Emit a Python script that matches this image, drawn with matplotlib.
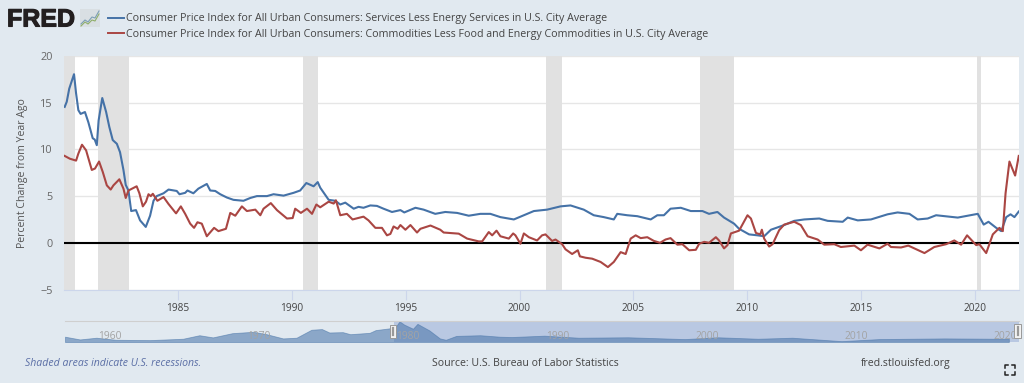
import matplotlib
matplotlib.use("Agg")
import matplotlib.pyplot as plt
import matplotlib.patheffects as pe

# --- data ---
services_years = [1980.03, 1980.12, 1980.23, 1980.44, 1980.53, 1980.63, 1980.73, 1980.92, 1981.07, 1981.26, 1981.35, 1981.44, 1981.52, 1981.68, 1981.85, 1981.99, 1982.14, 1982.32, 1982.46, 1982.61, 1982.71, 1982.83, 1982.95, 1983.16, 1983.34, 1983.59, 1983.78, 1983.93, 1984.07, 1984.37, 1984.59, 1984.95, 1985.07, 1985.32, 1985.42, 1985.68, 1985.90, 1986.27, 1986.42, 1986.64, 1986.86, 1987.15, 1987.44, 1987.88, 1988.18, 1988.47, 1988.91, 1989.20, 1989.64, 1990.08, 1990.37, 1990.64, 1990.96, 1991.14, 1991.25,
                  1991.62, 1991.91, 1992.13, 1992.35, 1992.72, 1992.93, 1993.15, 1993.45, 1993.74, 1994.03, 1994.40, 1994.77, 1994.94, 1995.43, 1995.79, 1996.30, 1996.74, 1997.26, 1997.77, 1998.28, 1998.72, 1999.16, 1999.75, 2000.19, 2000.63, 2001.21, 2001.80, 2002.24, 2002.82, 2003.26, 2003.70, 2004.14, 2004.29, 2004.73, 2005.17, 2005.76, 2006.05, 2006.34, 2006.63,
                  2007.08, 2007.52, 2008.03, 2008.32, 2008.69, 2008.98, 2009.42, 2009.64, 2010.08, 2010.45, 2010.74, 2011.04, 2011.62, 2012.06, 2012.50, 2013.16, 2013.53, 2014.19, 2014.41, 2014.85, 2015.43, 2016.16, 2016.60, 2017.12, 2017.48, 2017.92, 2018.29, 2019.24, 2020.12, 2020.38, 2020.59, 2020.93, 2021.15, 2021.37, 2021.56, 2021.73, 2021.92]
services_vals = [14.55, 15.1, 16.5, 18.05, 16.0, 14.2, 13.8, 14.0, 12.9, 11.2, 11.05, 10.45, 13.1, 15.5, 14.0, 12.4, 11.0, 10.6, 9.7, 7.8, 6.2, 5.6, 3.4, 3.5, 2.4, 1.7, 2.9, 4.5, 5.0, 5.3, 5.7, 5.55, 5.2, 5.35, 5.6, 5.3, 5.8, 6.3, 5.6, 5.55, 5.2, 4.85, 4.6, 4.5, 4.8, 5.0, 5.0, 5.2, 5.05, 5.35, 5.6, 6.4, 6.05, 6.5, 5.9,
                 4.6, 4.5, 4.1, 4.3, 3.65, 3.85, 3.75, 4.0, 3.95, 3.65, 3.3, 3.5, 3.25, 3.75, 3.55, 3.1, 3.3, 3.2, 2.9, 3.1, 3.1, 2.75, 2.5, 2.95, 3.4, 3.55, 3.9, 4.0, 3.55, 2.95, 2.75, 2.5, 3.1, 2.95, 2.85, 2.5, 2.95, 2.95, 3.65,
                 3.75, 3.4, 3.4, 3.1, 3.3, 2.7, 2.05, 1.5, 0.9, 0.8, 0.7, 1.4, 1.9, 2.35, 2.5, 2.6, 2.35, 2.25, 2.7, 2.4, 2.5, 3.05, 3.25, 3.1, 2.5, 2.6, 2.95, 2.7, 3.1, 1.95, 2.25, 1.6, 1.25, 2.75, 3.05, 2.75, 3.35]

commod_years = [1980.03, 1980.26, 1980.53, 1980.63, 1980.79, 1980.97, 1981.22, 1981.36, 1981.54, 1981.70, 1981.88, 1982.05, 1982.17, 1982.43, 1982.61, 1982.71, 1982.83, 1983.19, 1983.31, 1983.46, 1983.60, 1983.71, 1983.81, 1983.90, 1984.10, 1984.37, 1984.59, 1984.92, 1985.13, 1985.32, 1985.54, 1985.71, 1985.86, 1986.05, 1986.27, 1986.59, 1986.78, 1987.11, 1987.30, 1987.52, 1987.81, 1988.03, 1988.40, 1988.62, 1988.76, 1989.08, 1989.35, 1989.79, 1990.04, 1990.15, 1990.40, 1990.67, 1990.89, 1991.08, 1991.25,
                1991.62, 1991.84, 1991.94, 1992.13, 1992.42, 1992.67, 1993.15, 1993.37, 1993.67, 1993.96, 1994.18, 1994.33, 1994.47, 1994.65, 1994.77, 1994.99, 1995.21, 1995.50, 1995.65, 1996.09, 1996.52, 1996.67, 1997.33, 1997.70, 1998.21, 1998.36, 1998.65, 1998.80, 1998.99, 1999.16, 1999.53, 1999.72, 1999.82, 2000.04, 2000.19, 2000.41, 2000.77, 2000.99, 2001.14, 2001.43, 2001.58, 2001.87, 2002.02, 2002.31, 2002.56, 2002.65, 2002.90, 2003.19, 2003.56, 2003.88, 2004.14, 2004.44, 2004.66, 2004.88, 2005.10, 2005.32, 2005.61, 2005.90, 2006.17, 2006.41, 2006.63,
                2006.93, 2007.15, 2007.45, 2007.74, 2007.89, 2008.11, 2008.32, 2008.62, 2008.76, 2008.98, 2009.13, 2009.28, 2009.64, 2010.01, 2010.16, 2010.38, 2010.57, 2010.64, 2010.74, 2010.96, 2011.11, 2011.40, 2011.62, 2012.06, 2012.35, 2012.65, 2013.09, 2013.38, 2013.82, 2014.11, 2014.70, 2014.99, 2015.28, 2015.80, 2016.16, 2016.31, 2016.75, 2017.07, 2017.34, 2017.78, 2018.21, 2018.73, 2019.09, 2019.39, 2019.65, 2020.05, 2020.19, 2020.49, 2020.78, 2021.07, 2021.22, 2021.34, 2021.51, 2021.76, 2021.92]
commod_vals = [9.3, 9.0, 8.8, 9.55, 10.5, 9.9, 7.8, 7.95, 8.7, 7.6, 6.15, 5.7, 6.15, 6.8, 5.8, 4.8, 5.6, 6.05, 5.3, 3.9, 4.4, 5.2, 5.0, 5.25, 4.5, 4.9, 4.15, 3.15, 3.9, 3.1, 2.05, 1.6, 2.2, 2.05, 0.7, 1.6, 1.25, 1.5, 3.2, 2.9, 3.9, 3.4, 3.55, 2.95, 3.65, 4.25, 3.5, 2.6, 2.65, 3.65, 3.2, 3.65, 3.1, 4.1, 3.8,
               4.4, 4.2, 4.55, 2.95, 3.1, 2.5, 2.8, 2.4, 1.6, 1.6, 0.8, 0.95, 1.75, 1.5, 1.9, 1.4, 1.9, 1.1, 1.5, 1.85, 1.4, 1.1, 0.98, 0.45, 0.15, 0.15, 1.15, 0.8, 1.3, 0.7, 0.45, 1.0, 0.8, -0.1, 1.0, 0.6, 0.25, 0.8, 0.9, 0.2, 0.35, -0.15, -0.7, -1.2, -0.8, -1.45, -1.6, -1.7, -2.05, -2.6, -2.05, -1.0, -1.2, 0.45, 0.8, 0.5, 0.6, 0.2, 0.0, 0.35, 0.5,
               -0.2, -0.15, -0.8, -0.75, -0.1, 0.1, 0.0, 0.6, 0.25, -0.6, -0.25, 1.0, 1.3, 2.95, 2.6, 1.05, 0.9, 1.4, 0.45, -0.4, -0.15, 1.35, 1.95, 2.25, 1.9, 0.7, 0.35, -0.2, -0.15, -0.45, -0.3, -0.8, -0.2, -0.6, -0.1, -0.45, -0.5, -0.3, -0.6, -1.1, -0.45, -0.15, 0.25, -0.2, 0.8, -0.25, -0.15, -1.1, 0.9, 1.6, 1.25, 5.3, 8.7, 7.2, 9.3]

recession_starts = [1980.0, 1981.5, 1990.5, 2001.17, 2007.92, 2020.08]
recession_ends = [1980.5, 1982.87, 1991.17, 2001.87, 2009.42, 2020.25]

nav_years = [1958.0, 1959.0, 1960.1, 1961.4, 1963.7, 1965.9, 1967.0, 1967.9, 1969.2, 1970.6, 1971.5, 1972.6, 1973.5, 1974.5, 1975.2, 1975.7, 1976.6, 1977.1, 1978.4, 1978.8, 1979.7, 1980.2, 1980.4, 1980.7, 1981.3, 1981.6, 1982.4, 1983.1, 1983.5, 1984.2, 1985.8, 1987.1, 1987.9, 1990.1, 1992.4, 1995.7, 1999.5, 2001.7, 2004.4, 2006.7, 2010.0, 2012.5, 2016.9, 2020.3, 2021.2]
nav_vals = [4.5, 2.1, 3.6, 1.8, 1.5, 2.7, 5.8, 3.9, 7.6, 8.8, 6.7, 3.0, 3.6, 10.6, 11.2, 8.2, 8.5, 6.7, 7.9, 10.3, 11.8, 14.2, 18.0, 15.2, 11.5, 15.8, 10.0, 3.0, 1.8, 5.2, 5.8, 4.5, 4.2, 5.4, 3.6, 4.0, 2.4, 4.0, 2.7, 3.6, 0.6, 2.4, 3.0, 2.7, 2.7]

year_ticks = [1985, 1990, 1995, 2000, 2005, 2010, 2015, 2020]
value_ticks = [-5, 0, 5, 10, 15, 20]
nav_ticks = [1960, 1970, 1980, 1990, 2000, 2010, 2020]

services_label = "Consumer Price Index for All Urban Consumers: Services Less Energy Services in U.S. City Average"
commod_label = "Consumer Price Index for All Urban Consumers: Commodities Less Food and Energy Commodities in U.S. City Average"

BG = "#e1e9f0"
BLUE = "#4572a7"
RED = "#aa4643"
W, H = 1024, 383
plt.rcParams["font.family"] = ["Open Sans", "DejaVu Sans"]

fig = plt.figure(figsize=(W / 100, H / 100), dpi=100, facecolor=BG)

def px_axes(left, top, right, bottom):
    return fig.add_axes([left / W, 1 - bottom / H, (right - left) / W, (bottom - top) / H])

# --- main chart ---
ax = px_axes(64, 56, 1019, 289.5)
ax.set_xlim(1980.0, 2021.93)
ax.set_ylim(-5, 20)
ax.set_yticks(value_ticks)
ax.set_xticks(year_ticks)
ax.grid(axis="y", color="#e6e6e6", lw=1)
ax.set_axisbelow(True)
for s, e in zip(recession_starts, recession_ends):
    ax.axvspan(s, e, color="#e1e1e1", lw=0, zorder=1.5)
ax.axhline(0, color="black", lw=1.5, zorder=2)
ax.plot(services_years, services_vals, color=BLUE, lw=1.5, zorder=3)
ax.plot(commod_years, commod_vals, color=RED, lw=1.5, zorder=3)
for s in ["top", "left", "right"]:
    ax.spines[s].set_visible(False)
ax.spines["bottom"].set_color("#ccd6eb")
ax.tick_params(axis="y", length=0, labelsize=7.8, labelcolor="#666666", pad=8)
ax.tick_params(axis="x", length=7, width=0.8, color="#ccd6eb", labelsize=7.3, labelcolor="#444444", pad=3)
ax.set_ylabel("Percent Change from Year Ago", fontsize=7.6, color="#555555", labelpad=9)

# --- navigator strip ---
nav = px_axes(65, 321, 1019, 342)
nav.set_facecolor("none")
nav.set_xlim(1958.0, 2021.88)
nav.set_ylim(-0.15, 18.3)
nav.axvspan(1980.0, 2021.88, color="#b9c8e2", lw=0, zorder=0)
nav.fill_between(nav_years, nav_vals, -0.15, color=BLUE, alpha=0.55, lw=0.6, zorder=2)
nav.set_xticks([])
nav.set_yticks([])
for s in ["left", "right", "bottom"]:
    nav.spines[s].set_visible(False)
nav.spines["top"].set_color("#cfcfcf")
for t in nav_ticks:
    nav.text(t + 0.2, 9.5, str(t), fontsize=7.4, color="#a3a3a3", va="top", ha="left", zorder=3)

# --- everything placed by pixel: logo, legend, footer ---
ov = fig.add_axes([0, 0, 1, 1], facecolor="none", zorder=5)
ov.set_xlim(0, W)
ov.set_ylim(H, 0)
ov.axis("off")

logo = ov.text(7, 26.5, "FRED", fontsize=18, fontweight="bold", family="Liberation Sans", color="#231f20", va="baseline")
logo.set_path_effects([pe.withStroke(linewidth=0.8, foreground="#231f20")])
ov.add_patch(plt.Rectangle((80, 9), 20, 18, color="#d9dfe3", lw=0))
ov.plot([81, 85, 88, 92, 95, 99], [24, 20, 22, 17, 18, 11], color="#7d9fb5", lw=0.8)
ov.plot([81, 85, 88, 92, 95, 99], [26, 22, 24, 20, 21, 14], color="#8fae6a", lw=0.8)

ov.plot([108, 124], [18, 18], color=BLUE, lw=1.4)
ov.plot([108, 124], [33, 33], color=RED, lw=1.4)
ov.text(126, 19, services_label, fontsize=7.7, color="#444444", va="center")
ov.text(126, 34, commod_label, fontsize=7.7, color="#444444", va="center")

ov.text(25, 363.5, "Shaded areas indicate U.S. recessions.", fontsize=7.6, style="italic", color="#5a6ea5", va="center")
ov.text(432, 363.5, "Source: U.S. Bureau of Labor Statistics", fontsize=7.6, color="#444444", va="center")
ov.text(861, 363.5, "fred.stlouisfed.org", fontsize=7.6, color="#444444", va="center")

# navigator handles
for x0, x1, y0, y1 in [(390, 396, 325, 338), (1014, 1021, 324, 338)]:
    ov.add_patch(plt.Rectangle((x0, y0), x1 - x0, y1 - y0, fc="#f2f2f2", ec="#999999", lw=0.7))
    ov.plot([(x0 + x1) / 2] * 2, [y0 + 3, y1 - 3], color="#999999", lw=1.6)

# fullscreen icon
for cx, cy, dx, dy in [(1005, 365, 1, 1), (1015, 365, -1, 1), (1005, 375, 1, -1), (1015, 375, -1, -1)]:
    ov.plot([cx + 3 * dx, cx, cx], [cy, cy, cy + 3 * dy], color="#222222", lw=1.1)

fig.savefig("out.png", dpi=100, facecolor=BG)
